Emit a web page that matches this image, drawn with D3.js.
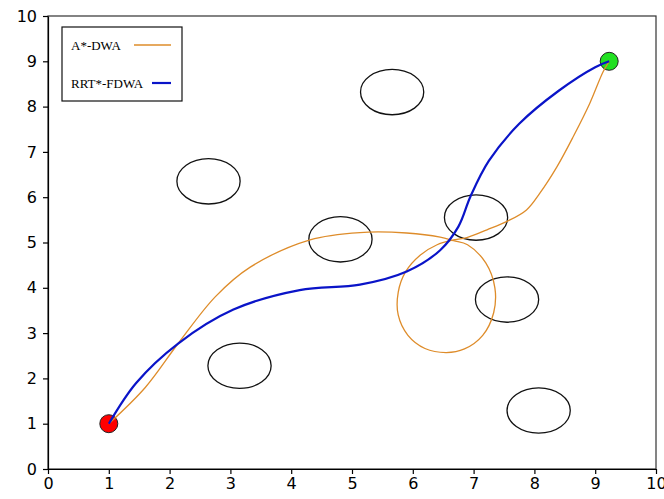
<!DOCTYPE html>
<html>
<head>
<meta charset="utf-8">
<script src="https://cdn.jsdelivr.net/npm/d3@7"></script>
<style>
	body { margin: 0; background: #fff; }
	.axis text { font-family: "DejaVu Sans", sans-serif; font-size: 16px; fill: #000; }
	.axis path, .axis line { stroke: #000; stroke-width: 1.2; }
	.legend text { font-family: "Liberation Serif", serif; font-size: 13px; }
</style>
</head>
<body>
<div id="vizHolder"></div>
<script>
// ticks
var xTicks = [0, 1, 2, 3, 4, 5, 6, 7, 8, 9, 10],
	yTicks = [0, 1, 2, 3, 4, 5, 6, 7, 8, 9, 10];

// obstacles (centres)
var obsX = [5.66, 2.64, 4.81, 7.04, 7.55, 3.15, 8.07],
	obsY = [8.32, 6.35, 5.07, 5.55, 3.74, 2.28, 1.29];

// start / goal
var startPt = [1.0, 1.0],
	goalPt = [9.23, 9.0];

// A*-DWA path (incl. the loop near x=6.5)
var astarX = [1.00, 1.60, 2.14, 2.75, 3.32, 4.31, 5.13, 5.90, 6.45, 6.67,
		6.90, 7.20, 7.35, 7.33, 7.15, 6.85, 6.55, 6.20, 5.92, 5.76, 5.76, 5.88, 6.12, 6.40, 6.65,
		6.89, 7.22, 7.54, 7.87, 8.09, 8.37, 8.64, 8.91, 9.13, 9.23],
	astarY = [1.00, 1.80, 2.77, 3.80, 4.45, 5.06, 5.22, 5.21, 5.12, 5.04,
		4.95, 4.55, 4.00, 3.45, 2.95, 2.65, 2.57, 2.66, 2.95, 3.40, 3.90, 4.35, 4.72, 4.95, 5.05,
		5.11, 5.28, 5.46, 5.72, 6.09, 6.67, 7.34, 8.07, 8.77, 9.00];

// RRT*-FDWA path
var rrtX = [1.00, 1.45, 2.14, 3.05, 4.14, 5.13, 5.90, 6.45, 6.75, 6.95, 7.25, 7.75, 8.40, 9.00, 9.23],
	rrtY = [1.00, 1.90, 2.77, 3.52, 3.95, 4.07, 4.36, 4.83, 5.35, 6.02, 6.80, 7.62, 8.35, 8.87, 9.00];

var legendLabels = ['A*-DWA', 'RRT*-FDWA'],
	lineColors = ['#de8c2a', '#0a14c8'];

var width = 664,
	height = 499,
	margin = {top: 16, right: 8, bottom: 30, left: 48},
	obsRx = 0.52,
	obsRy = 0.5;

var svg = d3.select('#vizHolder')
	.append('svg')
	.attr('width', width)
	.attr('height', height);

var xScale = d3.scaleLinear()
	.domain([0, 10])
	.range([margin.left, width - margin.right]);

var yScale = d3.scaleLinear()
	.domain([0, 10])
	.range([height - margin.bottom, margin.top]);

// frame
svg.append('rect')
	.attr('x', xScale(0))
	.attr('y', yScale(10))
	.attr('width', xScale(10) - xScale(0))
	.attr('height', yScale(0) - yScale(10))
	.attr('fill', 'none')
	.attr('stroke', '#333')
	.attr('stroke-width', 1.2);

svg.append('g')
	.attr('class', 'axis')
	.attr('transform', 'translate(0,' + yScale(0) + ')')
	.call(d3.axisBottom(xScale).tickValues(xTicks).tickFormat(d3.format('d')).tickSize(5).tickPadding(4).tickSizeOuter(0));

svg.append('g')
	.attr('class', 'axis')
	.attr('transform', 'translate(' + xScale(0) + ',0)')
	.call(d3.axisLeft(yScale).tickValues(yTicks).tickFormat(d3.format('d')).tickSize(5).tickPadding(6).tickSizeOuter(0));

// obstacles
svg.append('g').selectAll('ellipse')
	.data(obsX)
	.enter()
	.append('ellipse')
	.attr('cx', function(d) { return xScale(d); })
	.attr('cy', function(d, i) { return yScale(obsY[i]); })
	.attr('rx', xScale(obsRx) - xScale(0))
	.attr('ry', yScale(0) - yScale(obsRy))
	.attr('fill', 'none')
	.attr('stroke', '#111')
	.attr('stroke-width', 1.3);

// start & goal
svg.append('circle')
	.attr('cx', xScale(startPt[0])).attr('cy', yScale(startPt[1])).attr('r', 9)
	.attr('fill', '#ff0000').attr('stroke', '#222').attr('stroke-width', 1);
svg.append('circle')
	.attr('cx', xScale(goalPt[0])).attr('cy', yScale(goalPt[1])).attr('r', 9)
	.attr('fill', '#22e022').attr('stroke', '#222').attr('stroke-width', 1);

var line = d3.line()
	.x(function(d) { return xScale(d[0]); })
	.y(function(d) { return yScale(d[1]); })
	.curve(d3.curveCatmullRom.alpha(0.5));

svg.append('path')
	.datum(d3.zip(astarX, astarY))
	.attr('d', line)
	.attr('fill', 'none')
	.attr('stroke', lineColors[0])
	.attr('stroke-width', 1.3);

svg.append('path')
	.datum(d3.zip(rrtX, rrtY))
	.attr('d', line)
	.attr('fill', 'none')
	.attr('stroke', lineColors[1])
	.attr('stroke-width', 2.2);

// legend
var legend = svg.append('g').attr('class', 'legend');
legend.append('rect')
	.attr('x', 62).attr('y', 27).attr('width', 120).attr('height', 74)
	.attr('fill', '#fff').attr('stroke', '#111').attr('stroke-width', 1.2);

var legendRows = [{y: 50, x1: 134}, {y: 88, x1: 152}];
legendLabels.forEach(function(lbl, i) {
	legend.append('text')
		.attr('x', 71).attr('y', legendRows[i].y)
		.text(lbl);
	legend.append('line')
		.attr('x1', legendRows[i].x1).attr('x2', 171)
		.attr('y1', legendRows[i].y - 5).attr('y2', legendRows[i].y - 5)
		.attr('stroke', lineColors[i])
		.attr('stroke-width', i == 0 ? 1.6 : 2.2);
});
</script>
</body>
</html>
